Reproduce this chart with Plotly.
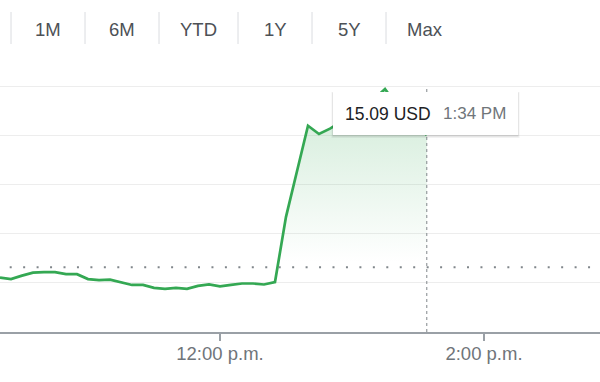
import plotly.graph_objects as go

# ---------------- data ----------------
day = "2024-03-15"
times = ["10:20", "10:25", "10:30", "10:35", "10:40", "10:45", "10:50", "10:55",
         "11:00", "11:05", "11:10", "11:15", "11:20", "11:25", "11:30", "11:35",
         "11:40", "11:45", "11:50", "11:55", "12:00", "12:05", "12:10", "12:15",
         "12:20", "12:25", "12:30", "12:35", "12:40", "12:45", "12:50", "12:55",
         "13:00", "13:05", "13:10", "13:15", "13:20", "13:25", "13:30", "13:34"]
prices = [14.799, 14.796, 14.803, 14.809, 14.810, 14.810, 14.806, 14.806,
          14.796, 14.794, 14.795, 14.790, 14.784, 14.784, 14.778, 14.776,
          14.778, 14.776, 14.782, 14.785, 14.781, 14.784, 14.787, 14.787,
          14.785, 14.790, 14.923, 15.016, 15.109, 15.092, 15.103, 15.117,
          15.131, 15.145, 15.163, 15.184, 15.153, 15.129, 15.106, 15.090]
prev_close = 14.82
hover_time = "13:34"
hover_price_text = "15.09 USD"
hover_time_text = "1:34 PM"
x_tick_times = ["12:00", "14:00"]
x_tick_labels = ["12:00 p.m.", "2:00 p.m."]
grid_values = [14.79, 14.89, 14.99, 15.09, 15.19]
range_buttons = ["1M", "6M", "YTD", "1Y", "5Y", "Max"]
x_window = ["10:20:00", "14:52:44"]
y_window = [14.688, 15.2431]

# ---------------- styling ----------------
W, H = 600, 382
M_T, M_B = 60, 50
PLOT_H = H - M_T - M_B
FONT = "Liberation Sans, Arial, sans-serif"
GREEN = "#34a853"
GREY_TXT = "#70757a"


def ts(t):
    return f"{day} {t}"


def py(pix):  # pixel row -> paper y
    return (H - M_B - pix) / PLOT_H


xs = [ts(t) for t in times]

fig = go.Figure()
# invisible baseline for the fill
fig.add_trace(go.Scatter(x=xs, y=[prev_close] * len(xs), mode="lines",
                         line=dict(width=0, color="rgba(0,0,0,0)"),
                         hoverinfo="skip", showlegend=False))
fig.add_trace(go.Scatter(
    x=xs, y=prices, mode="lines",
    line=dict(color=GREEN, width=2.7),
    fill="tonexty",
    fillgradient=dict(type="vertical",
                      colorscale=[[0, "rgba(52,168,83,0)"],
                                  [1, "rgba(52,168,83,0.22)"]],
                      start=14.83, stop=15.16),
    hoverinfo="skip", showlegend=False))

shapes = []
# previous close dotted line
shapes.append(dict(type="line", xref="paper", yref="y", x0=9.7 / W, x1=1,
                   y0=prev_close, y1=prev_close,
                   line=dict(color="#80868b", width=2, dash="2px,11.45px")))
# hover crosshair
shapes.append(dict(type="line", xref="x", yref="paper",
                   x0=ts(hover_time), x1=ts(hover_time), y0=0, y1=py(86),
                   line=dict(color="#80868b", width=1, dash="3px,3px")))
# tooltip box + shadow
bx0, bx1, by0, by1 = 333, 518, 92, 135
for dx, dy, grow, col in [(0, 1.5, 1.5, "rgba(0,0,0,0.05)"),
                          (0, 1, 0.5, "rgba(0,0,0,0.10)")]:
    shapes.append(dict(type="rect", xref="paper", yref="paper",
                       x0=(bx0 - grow + dx) / W, x1=(bx1 + grow + dx) / W,
                       y0=py(by1 + grow + dy), y1=py(by0 - grow + dy),
                       line=dict(width=0), fillcolor=col))
shapes.append(dict(type="rect", xref="paper", yref="paper",
                   x0=bx0 / W, x1=bx1 / W, y0=py(by1), y1=py(by0),
                   line=dict(width=0), fillcolor="white"))
# range button separators
seps = [11, 85, 159, 238, 312, 386, 464]
for sx in seps[:-1]:
    shapes.append(dict(type="line", xref="paper", yref="paper",
                       x0=sx / W, x1=sx / W, y0=py(12), y1=py(44),
                       line=dict(color="#dadce0", width=1)))

annotations = []
for i, lab in enumerate(range_buttons):
    cx = (seps[i] + seps[i + 1]) / 2
    annotations.append(dict(xref="paper", yref="paper", x=cx / W, y=py(29.5),
                            text=lab, showarrow=False, xanchor="center",
                            yanchor="middle",
                            font=dict(family=FONT, size=18.5, color="#4d5156")))
annotations.append(dict(xref="paper", yref="paper", x=343 / W, y=py(113.5),
                        text=hover_price_text, showarrow=False,
                        xanchor="left", yanchor="middle",
                        font=dict(family=FONT, size=17.5, color="#202124")))
annotations.append(dict(xref="paper", yref="paper", x=441 / W, y=py(113.5),
                        text=hover_time_text, showarrow=False,
                        xanchor="left", yanchor="middle",
                        font=dict(family=FONT, size=17, color=GREY_TXT)))

fig.update_layout(
    width=W, height=H,
    margin=dict(l=0, r=0, t=M_T, b=M_B, pad=0),
    paper_bgcolor="white", plot_bgcolor="white",
    showlegend=False, hovermode=False,
    shapes=shapes, annotations=annotations,
    xaxis=dict(type="date", range=[ts(x_window[0]), ts(x_window[1])],
               tickmode="array", tickvals=[ts(t) for t in x_tick_times],
               ticktext=x_tick_labels, ticks="outside", ticklen=7,
               tickwidth=2, tickcolor="#9aa0a6", showline=True,
               linecolor="#9aa0a6", linewidth=2, showgrid=False,
               zeroline=False, ticklabelstandoff=-3,
               tickfont=dict(family=FONT, size=18.5, color=GREY_TXT)),
    yaxis=dict(range=y_window, tickmode="array", tickvals=grid_values,
               showticklabels=False, showgrid=True, gridcolor="#ededed",
               gridwidth=1, zeroline=False, showline=False, ticks=""),
)

fig.write_html("out.html", config={"displayModeBar": False})
